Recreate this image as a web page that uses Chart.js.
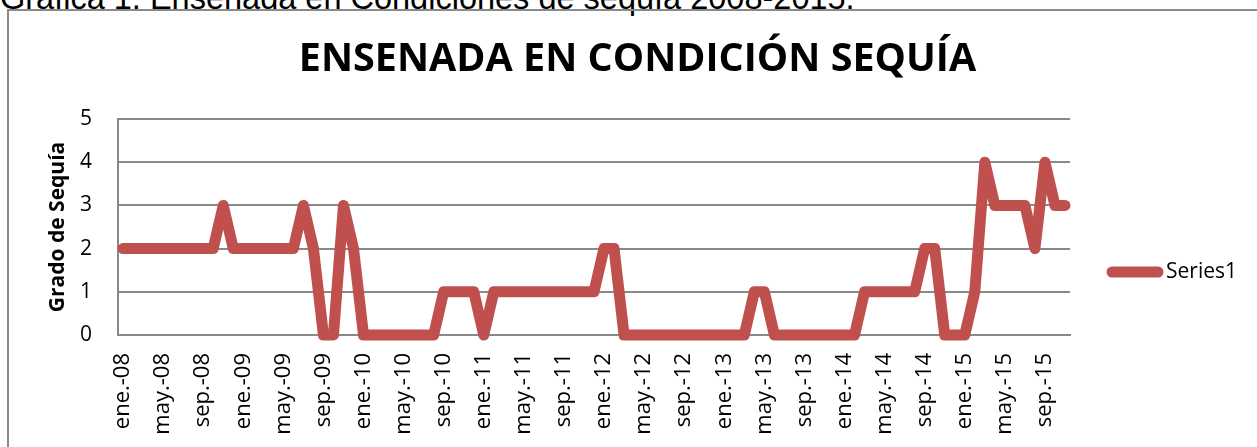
<!DOCTYPE html>
<html>
<head>
<meta charset="utf-8">
<script src="https://cdn.jsdelivr.net/npm/chart.js@4/dist/chart.umd.min.js"></script>
<style>
  html, body { margin: 0; padding: 0; background: #fff; overflow: hidden; }
  #wrap { position: relative; width: 1257px; height: 447px; }
  #caption {
    position: absolute; left: 0; top: -18px; margin: 0;
    font: 32.5px/32px "Liberation Sans", Arial, sans-serif; color: #000; white-space: nowrap;
  }
  #frame {
    position: absolute; left: 7px; top: 9px; width: 1400px; height: 600px;
    border: 2px solid #8a8a8a; box-sizing: border-box;
  }
  #myChart { position: absolute; left: 0; top: 0; }
</style>
</head>
<body>
<div id="wrap">
  <div id="caption">Gráfica 1. Ensenada en Condiciones de sequía 2008-2015.</div>
  <div id="frame"></div>
  <canvas id="myChart" width="1257" height="447"></canvas>
</div>
<script>
// months and years for the category axis
const months = ["ene.", "feb.", "mar.", "abr.", "may.", "jun.", "jul.", "ago.", "sep.", "oct.", "nov.", "dic."];
const years = ["08", "09", "10", "11", "12", "13", "14", "15"];
const lastMonthIndex = 94; // nov.-15

// grado de sequia, monthly from ene.-08
const sequia = [
  2, 2, 2, 2, 2, 2, 2, 2, 2, 2, 3, 2,
  2, 2, 2, 2, 2, 2, 3, 2, 0, 0, 3, 2,
  0, 0, 0, 0, 0, 0, 0, 0, 1, 1, 1, 1,
  0, 1, 1, 1, 1, 1, 1, 1, 1, 1, 1, 1,
  2, 2, 0, 0, 0, 0, 0, 0, 0, 0, 0, 0,
  0, 0, 0, 1, 1, 0, 0, 0, 0, 0, 0, 0,
  0, 0, 1, 1, 1, 1, 1, 1, 2, 2, 0, 0,
  0, 1, 4, 3, 3, 3, 3, 2, 4, 3, 3
];
const yTicks = [0, 1, 2, 3, 4, 5];
const seriesName = "Series1";

const labels = [];
years.forEach(y => months.forEach(m => labels.push(m + "-" + y)));
labels.length = lastMonthIndex + 1;

const red = "#C0504D";
const gridGray = "#898989";

// legend drawn at the right like the original
const sideLegend = {
  id: "sideLegend",
  afterDraw(chart) {
    const ctx = chart.ctx;
    const ds = chart.data.datasets[0];
    const y = 272;
    ctx.save();
    ctx.strokeStyle = ds.borderColor;
    ctx.lineWidth = 11;
    ctx.lineCap = "round";
    ctx.beginPath();
    ctx.moveTo(1112, y);
    ctx.lineTo(1158, y);
    ctx.stroke();
    ctx.fillStyle = "#000";
    ctx.font = '21px "Open Sans"';
    ctx.textBaseline = "middle";
    ctx.fillText(ds.label, 1166, y);
    ctx.restore();
  }
};

let lineChart = document.getElementById("myChart").getContext("2d");
const data = {
  labels: labels,
  datasets: [
    {
      label: seriesName,
      data: sequia,
      borderColor: red,
      backgroundColor: red,
      borderWidth: 11,
      borderJoinStyle: "round",
      borderCapStyle: "round",
      pointRadius: 0,
      tension: 0,
      clip: false,
      yAxisID: "y",
    },
  ],
};
const config = {
  type: "line",
  data: data,
  options: {
    responsive: false,
    animation: false,
    layout: { padding: { left: 18, top: 0, right: 0, bottom: 0 } },
    plugins: {
      legend: { display: false },
      tooltip: { enabled: false },
      title: {
        display: true,
        text: "ENSENADA EN CONDICIÓN SEQUÍA",
        color: "#000",
        font: { family: "Open Sans", size: 39.5, weight: "bold", lineHeight: 1.2 },
        padding: { top: 36, bottom: 35.6 },
      },
    },
    scales: {
      x: {
        type: "category",
        offset: true,
        grid: { display: false, drawTicks: false },
        border: { display: true, color: gridGray, width: 2 },
        ticks: {
          autoSkip: false,
          maxRotation: 90,
          minRotation: 90,
          padding: 18,
          color: "#000",
          font: { family: "Open Sans", size: 22 },
          callback: function (val, i) {
            return i % 4 === 0 ? this.getLabelForValue(val) : "";
          },
        },
        afterFit: (s) => { s.height = 112; },
      },
      y: {
        min: 0,
        max: 5,
        afterBuildTicks: (s) => { s.ticks = yTicks.map(v => ({ value: v })); },
        grid: { color: gridGray, lineWidth: 2, drawTicks: false },
        border: { display: true, color: gridGray, width: 2 },
        ticks: {
          padding: 26,
          color: "#000",
          font: { family: "Open Sans", size: 21 },
        },
        title: {
          display: true,
          text: "Grado de Sequía",
          color: "#000",
          font: { family: "Open Sans", size: 21, weight: "bold", lineHeight: 1.2 },
          padding: { top: 27, bottom: 0 },
        },
        afterFit: (s) => { s.width = 100; },
      },
      yRight: {
        position: "right",
        display: true,
        grid: { display: false, drawTicks: false },
        border: { display: false },
        ticks: { display: false },
        afterFit: (s) => { s.width = 187; },
      },
    },
  },
  plugins: [sideLegend],
};
// Create the chart
let myChart = new Chart(lineChart, config);
</script>
</body>
</html>
